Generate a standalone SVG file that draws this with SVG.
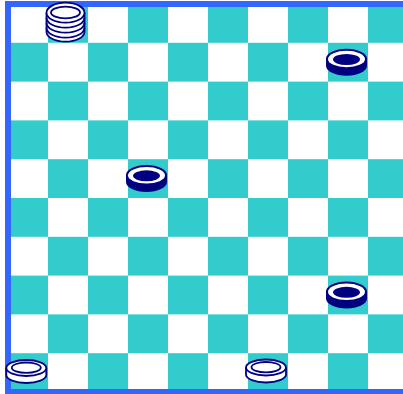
<svg xmlns="http://www.w3.org/2000/svg" xmlns:xlink="http://www.w3.org/1999/xlink" width="403" height="394" viewBox="0 0 403 394">
<style>
.navy{fill:#000080}
.wline{fill:#ffffff;stroke:#000080;stroke-width:1.8}
.line{fill:none;stroke:#000080;stroke-width:1.8}
</style>
<defs>
<pattern id="checker" x="8" y="4" width="80" height="77.6" patternUnits="userSpaceOnUse">
<rect x="0" y="0" width="80" height="77.6" fill="#ffffff"/>
<rect x="40" y="0" width="40" height="38.8" fill="#33cccc"/>
<rect x="0" y="38.8" width="40" height="38.8" fill="#33cccc"/>
</pattern>
<g id="darkPiece">
<path class="navy" d="M-20.5,0 V7 A20.5,10 0 0 0 20.5,7 V0 Z"/>
<ellipse class="navy" rx="20.5" ry="10"/>
<ellipse cx="0" cy="0.3" rx="18.5" ry="8.3" fill="#ffffff"/>
<ellipse class="navy" cx="0" cy="0.8" rx="13.5" ry="5.5"/>
</g>
<g id="whitePiece">
<path class="wline" d="M-20,0 V7 A20,8 0 0 0 20,7 V0"/>
<ellipse class="wline" rx="20" ry="8"/>
<ellipse class="line" cx="0" cy="-0.3" rx="14.5" ry="5.2"/>
</g>
</defs>
<g id="board">
<rect x="8" y="4" width="400" height="388" fill="url(#checker)"/>
<rect x="8" y="4" width="400" height="388" fill="none" stroke="#3366ff" stroke-width="6"/>
</g>
<g id="connectors"></g>
<g id="stack" transform="translate(65.5,12.7)">
<path class="wline" d="M-19,0 V19 A19,10 0 0 0 19,19 V0"/>
<path class="line" d="M-19,15 A19,10 0 0 0 19,15"/>
<path class="line" d="M-19,10 A19,10 0 0 0 19,10"/>
<path class="line" d="M-19,5 A19,10 0 0 0 19,5"/>
<ellipse class="wline" rx="19" ry="10"/>
<ellipse class="line" cx="0" cy="-0.2" rx="14.5" ry="5.8"/>
</g>
<g id="dark-1"><use xlink:href="#darkPiece" transform="translate(346.5,58.7)"/></g>
<g id="dark-2"><use xlink:href="#darkPiece" transform="translate(146.5,175)"/></g>
<g id="dark-3"><use xlink:href="#darkPiece" transform="translate(346.5,291.5)"/></g>
<g id="white-1"><use xlink:href="#whitePiece" transform="translate(26.3,368)"/></g>
<g id="white-2"><use xlink:href="#whitePiece" transform="translate(266,367.5)"/></g>
</svg>
